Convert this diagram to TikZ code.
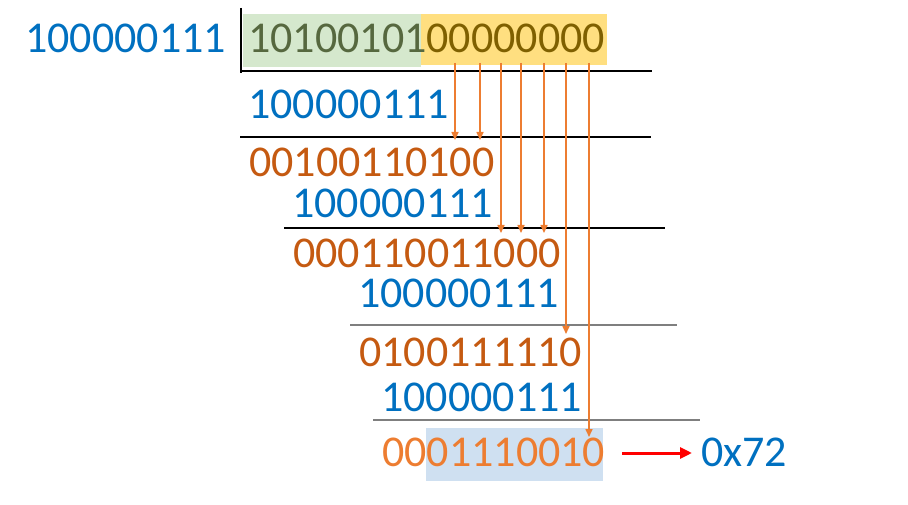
\documentclass[tikz,border=0pt]{standalone}
\usepackage{fontspec}
\setmainfont{Carlito}
\usetikzlibrary{arrows.meta}
\definecolor{cblue}{HTML}{0070C0}
\definecolor{corg}{HTML}{C55A11}
\definecolor{clorg}{HTML}{ED7D31}
\definecolor{cgreenbg}{HTML}{D5E8CD}
\definecolor{cyellowbg}{HTML}{FFDF80}
\definecolor{cgreentx}{HTML}{56683F}
\definecolor{cgoldtx}{HTML}{7F6000}
\definecolor{cbluebg}{HTML}{CFE0F1}
\definecolor{cgray}{HTML}{7F7F7F}
\begin{document}
\begin{tikzpicture}[x=1pt,y=-1pt,
  num/.style={anchor=base west, inner sep=0pt, font=\fontsize{44}{52}\selectfont},
  rule/.style={line width=1.2pt, black},
  grayrule/.style={line width=1.4pt, cgray},
  bring/.style={line width=1.6pt, clorg, -{Triangle[length=8pt,width=7pt]}},
  result/.style={line width=3pt, red, -{Triangle[length=12pt,width=11pt]}}]
\useasboundingbox (0,0) rectangle (908,505);
% highlight boxes
\fill[cgreenbg] (243,14) rectangle (421,67);
\fill[cyellowbg] (421,14) rectangle (607,65);
\fill[cbluebg] (426,428) rectangle (603,481);
% texts
\node[num, text=cblue] (div) at (25,53) {100000111};
\node[num] (dvd) at (248,53) {{\color{cgreentx}10100101}{\color{cgoldtx}00000000}};
\node[num, text=cblue] (r1) at (248,119) {100000111};
\node[num, text=corg] (r2) at (249,177) {00100110100};
\node[num, text=cblue] (r3) at (292,218) {100000111};
\node[num, text=corg] (r4) at (293,268) {000110011000};
\node[num, text=cblue] (r5) at (358,308) {100000111};
\node[num, text=corg] (r6) at (359,366) {0100111110};
\node[num, text=cblue] (r7) at (381,411) {100000111};
\node[num, text=clorg] (r8) at (382,466) {0001110010};
\node[num, text=cblue] (hex) at (701,466) {0x72};
% rules
\draw[rule] (241,8) -- (241,73);
\draw[rule] (241,71) -- (652,71);
\draw[rule] (240,137) -- (651,137);
\draw[rule] (284,228) -- (665,228);
\draw[grayrule] (350,325) -- (677,325);
\draw[grayrule] (373,420) -- (700,420);
% bring-down arrows
\coordinate (s1) at (455,63); \coordinate (e1) at (455,140);
\coordinate (s2) at (480,63); \coordinate (e2) at (480,140);
\coordinate (s3) at (501,63); \coordinate (e3) at (501,233);
\coordinate (s4) at (521,63); \coordinate (e4) at (521,233);
\coordinate (s5) at (544,63); \coordinate (e5) at (544,233);
\coordinate (s6) at (566,63); \coordinate (e6) at (566,334);
\coordinate (s7) at (589,63); \coordinate (e7) at (589,437);
\foreach \i in {1,...,7} {\draw[bring] (s\i) -- (e\i);}
% result arrow
\coordinate (ra) at (622,453);
\coordinate (rb) at (692,453);
\draw[result] (ra) -- (rb);
\end{tikzpicture}
\end{document}
